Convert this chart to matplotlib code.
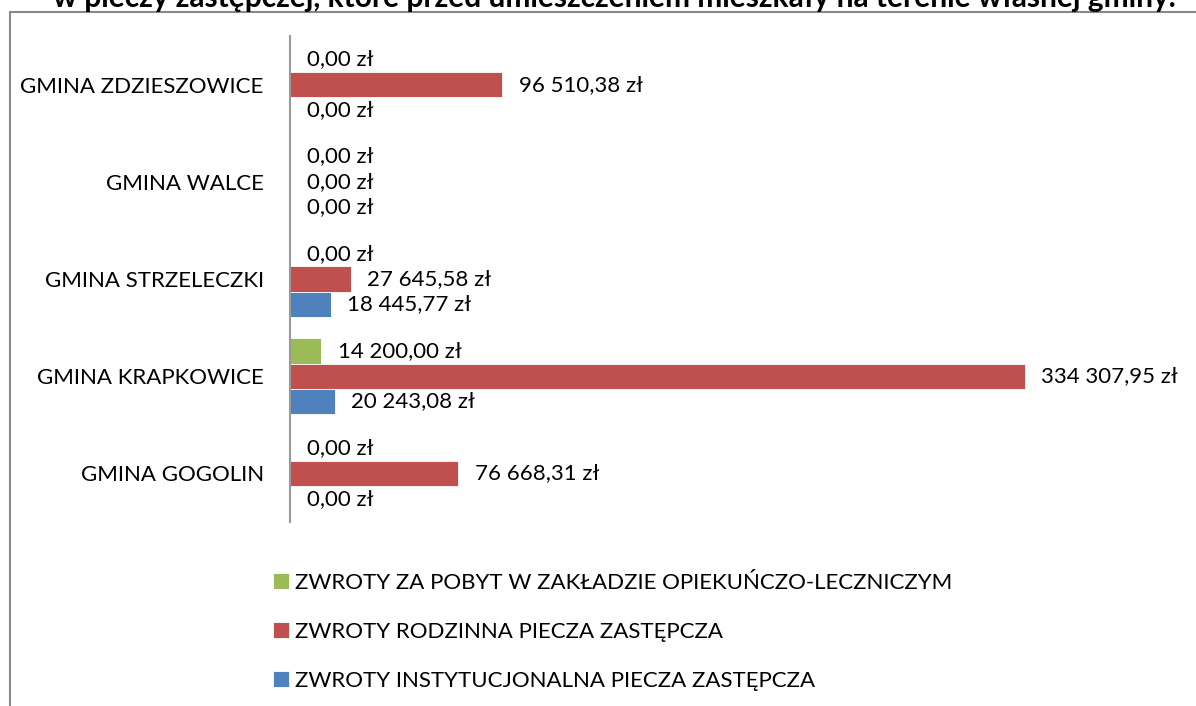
import numpy as np
import matplotlib.pyplot as plt
from matplotlib.patches import Rectangle

plt.rcParams['font.family'] = ['Lato', 'DejaVu Sans']

gminy = ["GMINA GOGOLIN", "GMINA KRAPKOWICE", "GMINA STRZELECZKI", "GMINA WALCE", "GMINA ZDZIESZOWICE"]
zol = [0.00, 14200.00, 0.00, 0.00, 0.00]
rodzinna = [76668.31, 334307.95, 27645.58, 0.00, 96510.38]
instytucjonalna = [0.00, 20243.08, 18445.77, 0.00, 0.00]

series_names = [
    "ZWROTY ZA POBYT W ZAKŁADZIE OPIEKUŃCZO-LECZNICZYM",
    "ZWROTY RODZINNA PIECZA ZASTĘPCZA",
    "ZWROTY INSTYTUCJONALNA PIECZA ZASTĘPCZA",
]
colors = ["#9BBB59", "#C0504D", "#4F81BD"]

title = "w pieczy zastępczej, które przed umieszczeniem mieszkały na terenie własnej gminy."


def fmt(v):
    s = f"{v:,.2f}".replace(",", " ").replace(".", ",")
    return s + " zł"


fig = plt.figure(figsize=(11.96, 7.06), dpi=100)
ax = fig.add_axes([0.2425, 0.2606, 0.7349, 0.6884])

# chart frame
fig.patches.append(Rectangle((10 / 1196, -0.1), 1.2, 1 - 12 / 706 + 0.1,
                             transform=fig.transFigure, fill=False,
                             edgecolor="#898989", linewidth=1.5))

y = np.arange(len(gminy))
h = 0.26
offsets = [h, 0, -h]
bars = []
for vals, off, c, name in zip([zol, rodzinna, instytucjonalna], offsets, colors, series_names):
    b = ax.barh(y + off, vals, height=h, color=c, edgecolor="white", linewidth=0.6, label=name)
    bars.append(b)
    for yi, v in zip(y, vals):
        ax.annotate(fmt(v), (v, yi + off), xytext=(12, 0), textcoords="offset points",
                    ha="left", va="center", fontsize=16)

ax.set_xlim(0, 400000)
ax.set_ylim(-0.5, 4.5)
ax.set_yticks(y)
ax.set_yticklabels(gminy, fontsize=16)
ax.tick_params(axis="y", length=0, pad=19)
ax.set_xticks([])
for s in ["top", "right", "bottom"]:
    ax.spines[s].set_visible(False)
ax.spines["left"].set_color("#999999")
ax.spines["left"].set_linewidth(1.5)

fig.legend(handles=bars, labels=series_names, loc="upper left",
           bbox_to_anchor=(253 / 1196, 1 - 553 / 706), frameon=False, fontsize=16,
           handlelength=0.7, handleheight=0.7, handletextpad=0.3, labelspacing=1.3)

fig.text(614 / 1196, 1 - 7 / 706, title, ha="center", va="baseline",
         fontsize=21.5, fontweight="bold")

fig.savefig("out.png", dpi=100)
